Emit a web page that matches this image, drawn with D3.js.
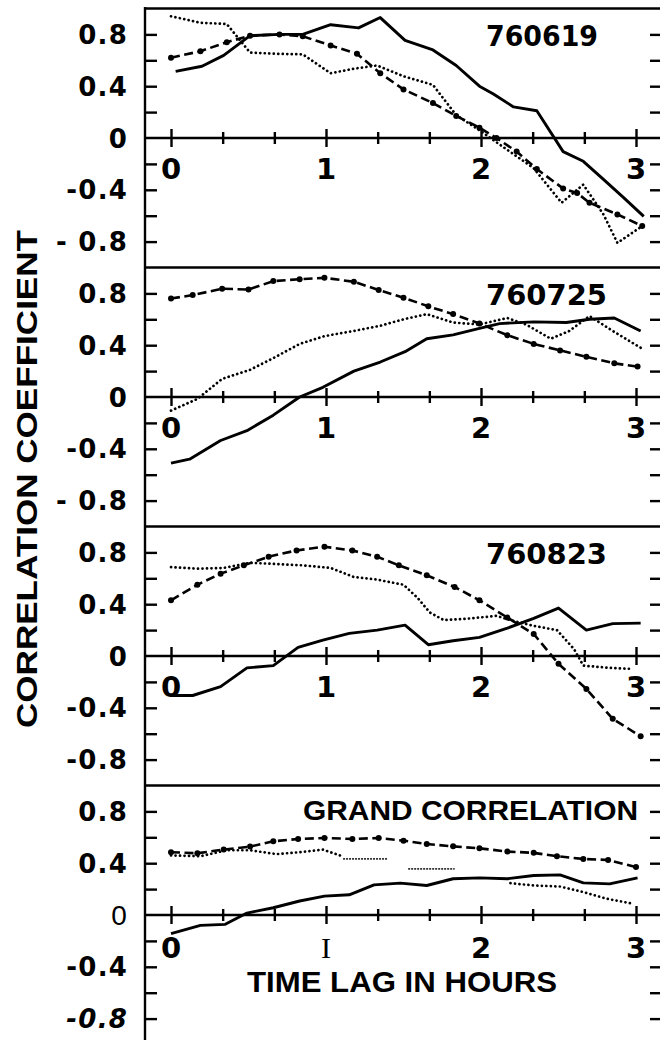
<!DOCTYPE html>
<html>
<head>
<meta charset="utf-8">
<script src="https://cdn.jsdelivr.net/npm/d3@7"></script>
<style>
  body { margin: 0; background: #fff; }
  svg { display: block; }
</style>
</head>
<body>
<svg></svg>
<script>
// time lag (hours) / correlation pairs
const panelNames = ["760619", "760725", "760823", "GRAND CORRELATION"];

const solid619 = [[0.03,0.515],[0.2,0.554],[0.34,0.638],[0.51,0.79],[0.7,0.8],[0.85,0.8],[1.03,0.875],[1.21,0.85],[1.35,0.93],[1.51,0.754],[1.69,0.68],[1.84,0.56],[1.99,0.40],[2.08,0.34],[2.21,0.24],[2.36,0.21],[2.53,-0.105],[2.66,-0.18],[2.79,-0.32],[2.92,-0.46],[3.05,-0.605]];
const dashed619 = [[0.0,0.62],[0.19,0.67],[0.36,0.74],[0.51,0.79],[0.7,0.8],[0.85,0.785],[1.03,0.715],[1.2,0.65],[1.35,0.5],[1.5,0.375],[1.69,0.27],[1.84,0.17],[1.99,0.08],[2.1,0.0],[2.23,-0.105],[2.36,-0.24],[2.53,-0.39],[2.62,-0.425],[2.7,-0.5],[2.88,-0.59],[3.04,-0.68]];
const dotted619 = [[0.0,0.94],[0.19,0.89],[0.36,0.88],[0.51,0.66],[0.68,0.65],[0.85,0.646],[1.03,0.5],[1.18,0.535],[1.33,0.56],[1.5,0.477],[1.69,0.41],[1.84,0.177],[1.99,0.06],[2.14,-0.067],[2.34,-0.233],[2.52,-0.5],[2.66,-0.36],[2.79,-0.59],[2.88,-0.81],[3.04,-0.68]];

const solid725 = [[0,-0.51],[0.12,-0.48],[0.32,-0.336],[0.49,-0.26],[0.66,-0.14],[0.83,0.0],[0.98,0.075],[1.18,0.2],[1.35,0.27],[1.51,0.35],[1.65,0.45],[1.82,0.48],[1.99,0.53],[2.12,0.567],[2.34,0.58],[2.55,0.575],[2.7,0.6],[2.86,0.61],[3.03,0.51]];
const dashed725 = [[0,0.76],[0.14,0.787],[0.33,0.836],[0.5,0.83],[0.66,0.895],[0.83,0.91],[0.99,0.92],[1.18,0.89],[1.34,0.826],[1.5,0.767],[1.66,0.7],[1.82,0.64],[1.99,0.567],[2.17,0.477],[2.34,0.41],[2.51,0.36],[2.68,0.31],[2.86,0.26],[3.01,0.235]];
const dotted725 = [[0,-0.105],[0.17,-0.015],[0.33,0.14],[0.51,0.21],[0.66,0.3],[0.83,0.41],[0.99,0.47],[1.18,0.51],[1.35,0.55],[1.5,0.6],[1.65,0.64],[1.82,0.575],[1.99,0.56],[2.17,0.61],[2.29,0.56],[2.45,0.45],[2.57,0.51],[2.7,0.625],[2.85,0.51],[3.03,0.38]];

const solid823 = [[0,-0.305],[0.14,-0.305],[0.32,-0.236],[0.49,-0.092],[0.66,-0.074],[0.82,0.067],[0.98,0.123],[1.15,0.175],[1.33,0.2],[1.51,0.238],[1.66,0.087],[1.82,0.118],[1.99,0.144],[2.17,0.215],[2.34,0.29],[2.5,0.37],[2.68,0.2],[2.85,0.25],[3.03,0.254]];
const dashed823 = [[0,0.43],[0.17,0.55],[0.32,0.636],[0.47,0.7],[0.63,0.767],[0.81,0.815],[0.99,0.844],[1.17,0.815],[1.33,0.767],[1.47,0.7],[1.65,0.623],[1.83,0.533],[1.99,0.43],[2.17,0.297],[2.34,0.17],[2.5,-0.06],[2.68,-0.254],[2.85,-0.485],[3.03,-0.62]];
const dotted823 = [[0,0.687],[0.17,0.674],[0.34,0.68],[0.51,0.72],[0.68,0.71],[0.85,0.7],[1.03,0.68],[1.18,0.61],[1.33,0.59],[1.5,0.55],[1.59,0.45],[1.67,0.336],[1.76,0.277],[1.93,0.29],[2.1,0.31],[2.21,0.27],[2.34,0.233],[2.49,0.2],[2.6,0.054],[2.66,-0.074],[2.83,-0.092],[2.98,-0.1]];

const solidGrand = [[0,-0.144],[0.19,-0.08],[0.35,-0.072],[0.49,0.015],[0.66,0.056],[0.83,0.108],[0.99,0.146],[1.15,0.156],[1.31,0.233],[1.48,0.246],[1.65,0.228],[1.82,0.28],[1.99,0.287],[2.17,0.28],[2.34,0.305],[2.51,0.31],[2.66,0.248],[2.83,0.24],[3.01,0.287]];
const dashedGrand = [[0,0.485],[0.17,0.477],[0.34,0.505],[0.51,0.528],[0.66,0.569],[0.82,0.587],[0.99,0.595],[1.17,0.587],[1.34,0.595],[1.5,0.574],[1.65,0.548],[1.82,0.53],[1.99,0.515],[2.17,0.49],[2.34,0.48],[2.49,0.454],[2.66,0.433],[2.82,0.425],[3.0,0.37]];
const dottedGrandA = [[0,0.46],[0.19,0.454],[0.36,0.5],[0.51,0.5],[0.68,0.47],[0.83,0.485],[0.98,0.505],[1.09,0.46]];
const dottedGrandB = [[2.19,0.246],[2.34,0.228],[2.51,0.22],[2.66,0.177],[2.81,0.126],[2.98,0.087]];
const dottedGrandGaps = [[[1.11,0.433],[1.40,0.433]], [[1.53,0.356],[1.83,0.356]]];

const yTickText = [
  ["0.8", "0.4", "0", "-0.4", "- 0.8"],
  ["0.8", "0.4", "0", "-0.4", "- 0.8"],
  ["0.8", "0.4", "0", "-0.4", "-0.8"],
  ["0.8", "0.4", "0", "-0.4", "-0.8"]
];
const yTickValues = [0.8, 0.4, 0, -0.4, -0.8];
const yMinorTicks = [-0.8, -0.6, -0.4, -0.2, 0.2, 0.4, 0.6, 0.8];
const xTickText = [["0","1","2","3"], ["0","1","2","3"], ["0","1","2","3"], ["0","I","2","3"]];
const xTickValues = [0, 1, 2, 3];
const xMinorTicks = [1/3, 2/3, 4/3, 5/3, 7/3, 8/3];

const panels = [
  { name: panelNames[0], solid: solid619, dashed: dashed619, dotted: [dotted619] },
  { name: panelNames[1], solid: solid725, dashed: dashed725, dotted: [dotted725] },
  { name: panelNames[2], solid: solid823, dashed: dashed823, dotted: [dotted823] },
  { name: panelNames[3], solid: solidGrand, dashed: dashedGrand, dotted: [dottedGrandA, dottedGrandB] }
];

let w = 660;
let h = 1040;
let frameX = 145;
let rightX = 660;
let top0 = 8.5;
let ph = 259; // each panel spans -1..1
const numFont = "'DejaVu Sans', sans-serif";
const wordFont = "'Liberation Sans', Arial, sans-serif";

let svg = d3.select('svg').attr('width', w).attr('height', h);

let xSc = d3.scaleLinear().domain([0, 3]).range([171, 636]);

panels.forEach((p, i) => {
  let top = top0 + i * ph;
  let ySc = d3.scaleLinear().domain([-1, 1]).range([top + ph, top]);
  let g = svg.append('g');
  let y0 = ySc(0);

  // separator / top line
  g.append('line').attr('x1', frameX).attr('x2', rightX).attr('y1', top).attr('y2', top)
   .attr('stroke', '#000').attr('stroke-width', 2.4);

  // left and right ticks
  g.append('g').attr('transform', 'translate(' + frameX + ',0)')
   .call(d3.axisRight(ySc).tickValues(yMinorTicks).tickSize(12).tickFormat(''))
   .call(a => a.select('.domain').remove())
   .selectAll('line').attr('stroke-width', 2.4);
  g.append('g').attr('transform', 'translate(' + rightX + ',0)')
   .call(d3.axisLeft(ySc).tickValues(yMinorTicks).tickSize(10).tickFormat(''))
   .call(a => a.select('.domain').remove())
   .selectAll('line').attr('stroke-width', 2.4);

  // y labels
  g.selectAll('text.ylab').data(yTickValues).enter().append('text')
   .attr('class', 'ylab')
   .attr('x', 128).attr('y', d => ySc(d)).attr('dy', '0.37em')
   .attr('text-anchor', 'end')
   .attr('font-family', (d, j) => (i == 3 && j == 2) ? wordFont : numFont)
   .attr('font-size', (d, j) => (i == 3 && j == 2) ? 28 : 26)
   .attr('font-weight', (d, j) => (i == 3 && j == 2) ? 'normal' : 'bold')
   .attr('font-style', (d, j) => (i == 3 && j == 4) ? 'italic' : 'normal')
   .attr('letter-spacing', 1.2)
   .text((d, j) => yTickText[i][j]);

  // zero line with ticks crossing it
  g.append('line').attr('x1', frameX).attr('x2', rightX).attr('y1', y0).attr('y2', y0)
   .attr('stroke', '#000').attr('stroke-width', 2.4);
  [[xTickValues, 9], [xMinorTicks, 6]].forEach(([vals, s]) => {
    g.append('g').attr('transform', 'translate(0,' + y0 + ')')
     .call(d3.axisBottom(xSc).tickValues(vals).tickSize(s).tickFormat(''))
     .call(a => a.select('.domain').remove())
     .selectAll('line').attr('stroke-width', 2.4);
    g.append('g').attr('transform', 'translate(0,' + y0 + ')')
     .call(d3.axisTop(xSc).tickValues(vals).tickSize(s).tickFormat(''))
     .call(a => a.select('.domain').remove())
     .selectAll('line').attr('stroke-width', 2.4);
  });

  // x labels
  g.selectAll('text.xlab').data(xTickValues).enter().append('text')
   .attr('class', 'xlab')
   .attr('x', d => xSc(d)).attr('y', y0 + (i == 3 ? 43 : 41))
   .attr('text-anchor', 'middle')
   .attr('font-family', (d, j) => xTickText[i][j] == 'I' ? "'Liberation Serif', serif" : numFont)
   .attr('font-weight', (d, j) => xTickText[i][j] == 'I' ? 'normal' : 'bold')
   .attr('font-size', (d, j) => xTickText[i][j] == 'I' ? 30 : 29)
   .text((d, j) => xTickText[i][j]);

  // panel title
  if (i < 3) {
    g.append('text').attr('x', 486).attr('y', top + 37)
     .attr('font-family', numFont).attr('font-weight', 'bold').attr('font-size', 29)
     .attr('textLength', i == 0 ? 112 : 121).attr('lengthAdjust', 'spacingAndGlyphs')
     .text(p.name);
  } else {
    g.append('text').attr('x', 303).attr('y', top + 34.5)
     .attr('font-family', wordFont).attr('font-weight', 'bold').attr('font-size', 28)
     .attr('textLength', 335).attr('lengthAdjust', 'spacingAndGlyphs')
     .text(p.name);
  }

  let line = d3.line().x(d => xSc(d[0])).y(d => ySc(d[1]));

  p.dotted.forEach(s => {
    g.append('path').attr('d', line(s)).attr('fill', 'none').attr('stroke', '#000')
     .attr('stroke-width', 2.7).attr('stroke-linecap', 'round')
     .attr('stroke-dasharray', '0.1,4.4');
  });
  if (i == 3) {
    dottedGrandGaps.forEach(s => {
      g.append('path').attr('d', line(s)).attr('fill', 'none').attr('stroke', '#333')
       .attr('stroke-width', 1.8).attr('stroke-dasharray', '2,1');
    });
  }

  g.append('path').attr('d', line(p.dashed)).attr('fill', 'none').attr('stroke', '#000')
   .attr('stroke-width', 2.6).attr('stroke-dasharray', '9,4.5');
  g.selectAll('circle').data(p.dashed).enter().append('circle')
   .attr('cx', d => xSc(d[0])).attr('cy', d => ySc(d[1])).attr('r', 3).attr('fill', '#000');

  g.append('path').attr('d', line(p.solid)).attr('fill', 'none').attr('stroke', '#000')
   .attr('stroke-width', 2.9).attr('stroke-linejoin', 'round');
});

// left frame
svg.append('line').attr('x1', frameX).attr('x2', frameX).attr('y1', 7).attr('y2', h)
   .attr('stroke', '#000').attr('stroke-width', 2.4);

// axis titles
svg.append('text').attr('x', 402).attr('y', 992).attr('text-anchor', 'middle')
   .attr('font-family', wordFont).attr('font-weight', 'bold').attr('font-size', 30)
   .attr('textLength', 310).attr('lengthAdjust', 'spacingAndGlyphs')
   .text('TIME LAG IN HOURS');

svg.append('text').attr('transform', 'translate(37,479) rotate(-90)')
   .attr('text-anchor', 'middle')
   .attr('font-family', wordFont).attr('font-weight', 'bold').attr('font-size', 30)
   .attr('textLength', 498).attr('lengthAdjust', 'spacingAndGlyphs')
   .text('CORRELATION COEFFICIENT');
</script>
</body>
</html>
